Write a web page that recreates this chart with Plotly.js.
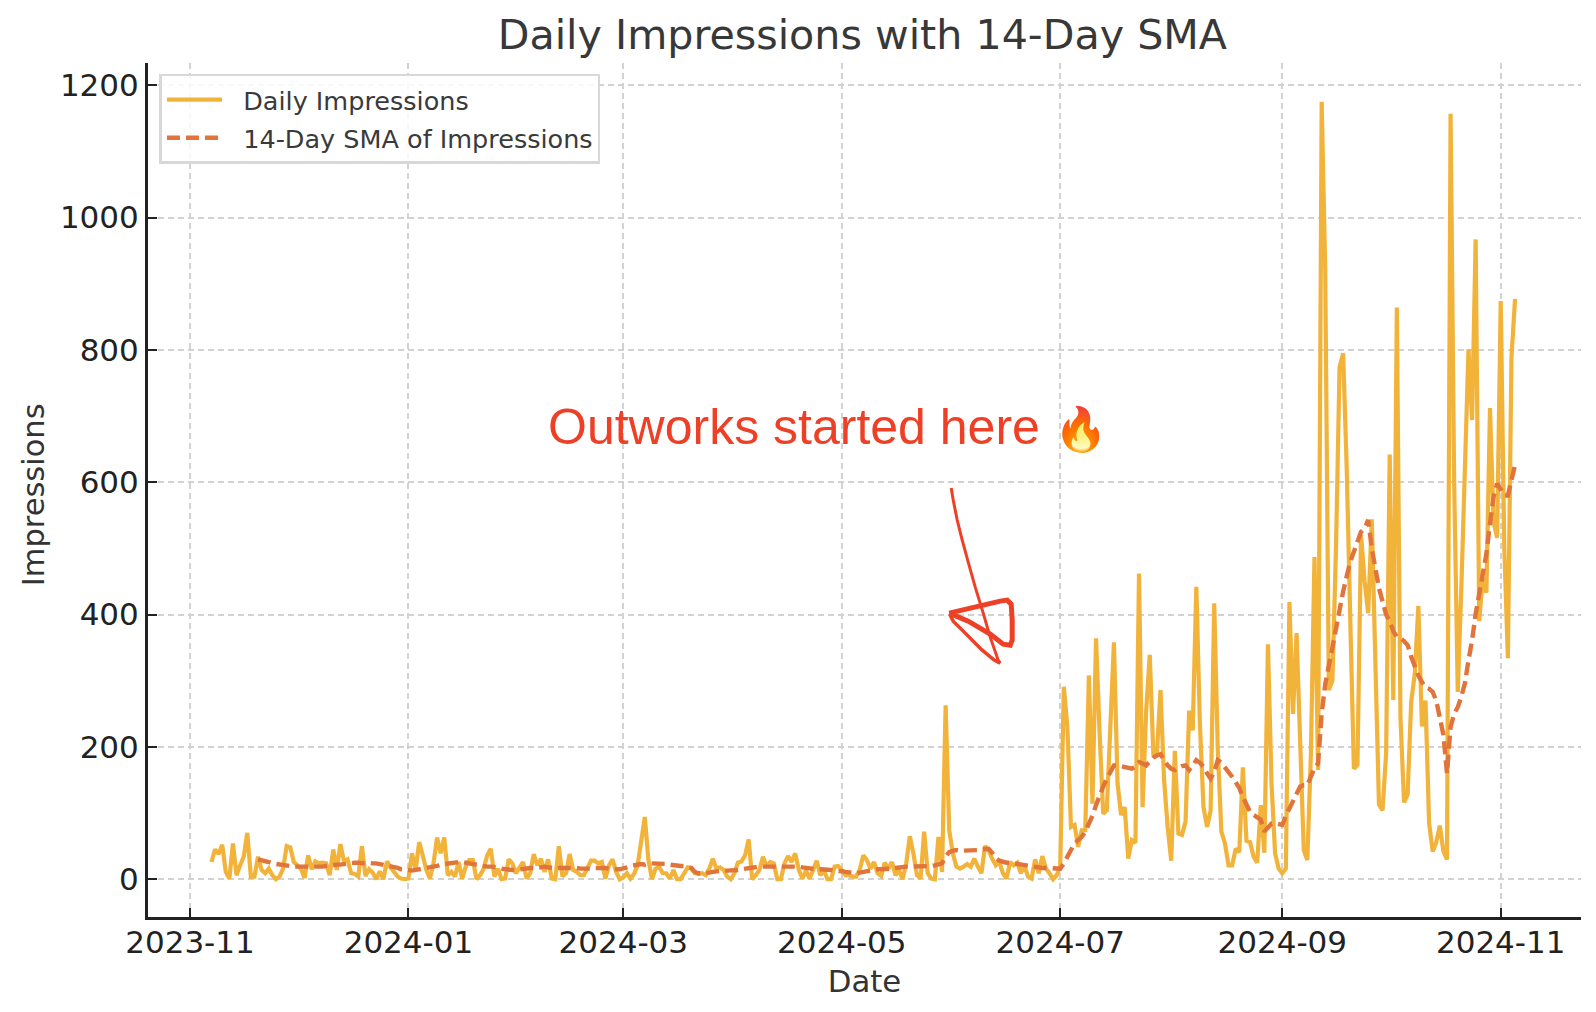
<!DOCTYPE html>
<html>
<head>
<meta charset="utf-8">
<script src="https://cdn.plot.ly/plotly-3.0.1.min.js"></script>
<style>html,body{margin:0;padding:0;background:#fff}#chart{width:1596px;height:1012px}</style>
</head>
<body>
<div id="chart"></div>
<script>
const startDate = '2023-11-07';
const dailyNov23 = [26,45,38,52,11,1,54,6,21,34,70,4,4,34,14,9,16,6,0,4,16,50,48,26];
const dailyDec23 = [21,16,2,36,15,27,24,25,24,6,45,14,53,27,30,9,8,4,50,5,15,10,0,12,0,27,18,12,4,1,0];
const dailyJan24 = [1,39,14,56,36,14,1,24,63,39,63,6,11,4,26,1,19,29,29,0,6,16,36,46,4,16,0,1,30,24,9];
const dailyFeb24 = [19,26,1,9,38,21,31,11,30,1,0,50,4,9,38,14,11,6,6,19,28,28,24,26,1,21,30,11,0];
const dailyMar24 = [3,9,1,8,21,60,94,30,0,16,19,9,9,1,14,0,0,9,18,16,9,8,9,6,16,31,16,18,14,4,0];
const dailyApr24 = [9,25,27,36,60,0,6,14,34,19,26,24,0,0,24,35,26,39,14,1,13,1,14,28,6,14,0,0,19,20];
const dailyMay24 = [14,6,6,4,4,14,36,29,16,26,9,5,25,16,26,6,14,0,24,65,39,6,1,72,9,1,0,64,11,263,74];
const dailyJun24 = [39,19,16,19,23,19,31,19,9,50,44,31,21,26,9,1,26,21,25,9,21,4,1,30,9,35,16,9,0,6];
const dailyJul24 = [19,291,230,79,82,49,74,74,308,114,364,220,99,104,230,358,145,97,109,31,59,55,462,109,255,339,190,190,286,150,79];
const dailyAug24 = [28,194,69,67,87,255,225,442,235,109,79,104,417,195,72,54,21,21,46,41,169,58,56,34,25,112,40,355,145,39,16];
const dailySep24 = [9,16,419,250,372,210,44,29,190,487,165,1175,920,286,300,500,774,795,620,390,167,173,520,450,402,544,330,113,104,190];
const dailyOct24 = [642,271,864,245,116,128,268,310,413,231,270,85,42,56,81,42,30,1157,600,283,440,620,801,694,967,390,456,433,712,540,516];
const dailyNov24 = [874,500,334,789,877];

const smaNov23 = [30,29,27,26,24,23,22,21,20,19,19];
const smaDec23 = [19,19,19,19,18,19,19,19,20,21,21,22,22,23,24,25,25,25,24,25,24,24,24,23,21,20,19,18,17,15,14];
const smaJan24 = [13,13,14,15,15,16,17,18,20,22,23,24,25,26,26,26,25,24,23,22,20,19,19,19,19,18,16,15,15,14,14];
const smaFeb24 = [15,16,17,17,17,17,18,19,18,17,16,17,17,17,18,18,17,16,16,15,16,17,17,18,17,16,15,15,15];
const smaMar24 = [16,18,20,21,22,23,22,24,24,24,24,23,23,22,21,21,20,20,19,17,11,9,9,9,10,11,12,12,13,13,13];
const smaApr24 = [13,14,15,16,17,18,18,19,19,19,20,20,20,20,20,20,20,19,19,18,17,16,16,15,15,15,14,14,13,13];
const smaMay24 = [12,11,10,9,9,10,11,12,14,14,15,15,15,16,16,17,18,19,19,19,19,20,20,20,20,20,21,22,24,34,41];
const smaJun24 = [43,44,43,43,43,44,44,44,45,46,46,40,32,28,26,25,25,24,23,22,21,20,19,18,17,17,17,17,16,16];
const smaJul24 = [16,24,34,46,54,59,64,72,83,96,112,128,140,152,164,172,172,171,170,169,167,170,177,175,172,178,184,187,189,180,172];
const smaAug24 = [167,165,168,171,172,165,172,180,176,170,160,152,162,180,176,168,162,155,147,138,124,112,102,97,93,90,72,78,84,85,83];
const smaSep24 = [82,96,107,120,132,140,142,142,155,168,175,250,295,320,350,378,410,435,458,480,495,510,525,530,543,500,465,440,420,400];
const smaOct24 = [390,375,366,364,360,354,336,321,308,298,290,288,283,270,240,218,160,230,250,260,276,296,331,361,401,432,462,492,537,578,598];
const smaNov24 = [590,580,580,600,626];

const xTickVals = ['2023-11-01','2024-01-01','2024-03-01','2024-05-01','2024-07-01','2024-09-01','2024-11-01'];
const xTickText = ['2023-11','2024-01','2024-03','2024-05','2024-07','2024-09','2024-11'];
const yTickVals = [0,200,400,600,800,1000,1200];

const daily = [].concat(dailyNov23,dailyDec23,dailyJan24,dailyFeb24,dailyMar24,dailyApr24,dailyMay24,dailyJun24,dailyJul24,dailyAug24,dailySep24,dailyOct24,dailyNov24);
const smaValues = [].concat(smaNov23,smaDec23,smaJan24,smaFeb24,smaMar24,smaApr24,smaMay24,smaJun24,smaJul24,smaAug24,smaSep24,smaOct24,smaNov24);
const dayMs = 86400000;
const t0 = Date.parse(startDate + 'T00:00:00Z');
const dates = daily.map((_, i) => new Date(t0 + i * dayMs).toISOString().slice(0, 10));
const smaDates = dates.slice(daily.length - smaValues.length);

const W = 1596, H = 1012, M = {l:147.5, r:15, t:63, b:95.2, pad:0};
const pw = W - M.l - M.r, ph = H - M.t - M.b;
const px = x => ((x - M.l) / pw).toFixed(5);
const py = y => (1 - (y - M.t) / ph).toFixed(5);
const pathOf = pts => pts.map((p, i) => (i ? 'L' : 'M') + px(p[0]) + ',' + py(p[1])).join(' ');

const stem = [[951,488],[953,500],[957,520],[962,540],[968,562],[975,587],[983,613],[990,637],[998,660],[1000,663]];
const headThin = [[1000,663],[994,660],[982,650],[963,631],[953,621],[950,615]];
const headThick = [[949,613],[1000,601],[1007,600],[1011,604],[1012,620],[1012,640],[1010,645],[1003,644],[990,634],[968,621],[949,613]];
const red = '#EE4026';

const layout = {
  width: W, height: H, margin: M, paper_bgcolor:'#fff', plot_bgcolor:'#fff',
  font: {family:'DejaVu Sans, sans-serif', color:'#222'},
  title: {text:'Daily Impressions with 14-Day SMA', font:{size:41.2, color:'#383838'}, x:0.4985, xref:'paper', xanchor:'center', y:0.9655, yref:'container', yanchor:'middle'},
  xaxis: {
    type:'date', range:['2023-10-20 06:40','2024-11-23 10:00'],
    tickmode:'array', tickvals:xTickVals, ticktext:xTickText,
    ticks:'inside', ticklen:9, tickwidth:2, tickcolor:'#222',
    tickfont:{size:31, color:'#222'}, ticklabelstandoff:-4,
    showline:true, linecolor:'#222', linewidth:3, zeroline:false, mirror:false,
    showgrid:true, gridcolor:'#d2d2d2', griddash:'6px,4px', gridwidth:1.8,
    title:{text:'Date', font:{size:30.8, color:'#333'}, standoff:12}
  },
  yaxis: {
    range:[-57.1,1233.6], tickmode:'array', tickvals:yTickVals,
    ticks:'inside', ticklen:9, tickwidth:2, tickcolor:'#222',
    tickfont:{size:31, color:'#222'},
    showline:true, linecolor:'#222', linewidth:3, zeroline:false,
    showgrid:true, gridcolor:'#d2d2d2', griddash:'6px,4px', gridwidth:1.8,
    title:{text:'Impressions\u00a0\u200b', font:{size:30.5, color:'#333'}, standoff:7}
  },
  legend: {
    x:px(159)*1, y:py(74)*1, xanchor:'left', yanchor:'top',
    bgcolor:'rgba(255,255,255,0.85)', bordercolor:'#d8d8d8', borderwidth:2.5,
    font:{size:25.5, color:'#3a3a3a'}, itemwidth:55, tracegroupgap:2,
    entrywidth:376, entrywidthmode:'pixels'
  },
  annotations: [{
    xref:'paper', yref:'paper', x:px(546)*1, y:py(427)*1, xanchor:'left', yanchor:'middle',
    text:'Outworks started here <span style="font-size:43px">🔥</span>', showarrow:false,
    font:{family:'Liberation Sans, Arial, sans-serif', size:50, color:red}
  }],
  shapes: [
    {type:'path', xref:'paper', yref:'paper', path:pathOf(stem), line:{color:red, width:3}},
    {type:'path', xref:'paper', yref:'paper', path:pathOf(headThin), line:{color:red, width:3.5}},
    {type:'path', xref:'paper', yref:'paper', path:pathOf(headThick), line:{color:red, width:5}}
  ]
};

const traces = [
  {type:'scatter', mode:'lines', name:'\u00a0\u00a0Daily Impressions', legendgroup:'daily', x:dates, y:daily,
   line:{color:'#F2B33A', width:4.2, shape:'linear'}},
  {type:'scatter', mode:'lines', name:'\u00a0\u00a014-Day SMA of Impressions', legendgroup:'sma', x:smaDates, y:smaValues,
   line:{color:'#E0743A', width:4.4, dash:'13px,6px'}}
];

Plotly.newPlot('chart', traces, layout, {displayModeBar:false, responsive:false});
</script>
</body>
</html>
